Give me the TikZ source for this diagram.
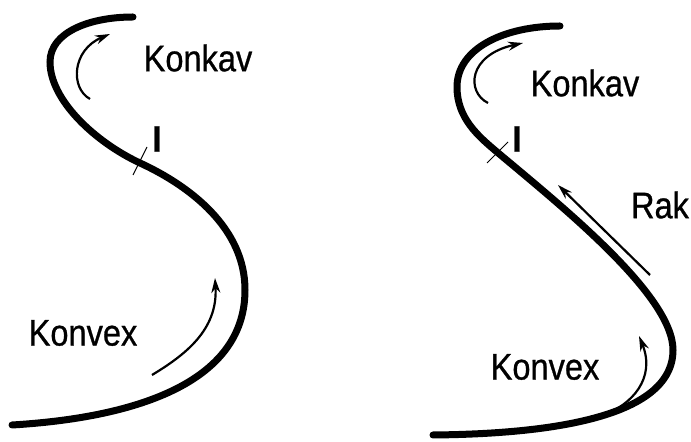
\documentclass[tikz,border=0pt]{standalone}
\usepackage{fontspec}
\setmainfont{Liberation Sans}[FakeBold=0.8]
\usetikzlibrary{arrows.meta}

\tikzset{
  curve/.style = {line width = 3.5pt, line cap = round},
  turn/.style = {line width = 1.1pt, -{Stealth[length = 7.5pt, width = 4.5pt]}},
  tick/.style = {line width = 0.5pt},
  lbl/.style = {font = \fontsize{18.5}{20}\selectfont, xscale = 0.88, inner sep = 0pt}
}

\begin{document}
\begin{tikzpicture}[x = 0.5pt, y = -0.5pt]
\useasboundingbox (0,0) rectangle (691,442);
% left S
\draw[curve] (133,17) .. controls (90,17) and (50,32) .. (50,62)
  .. controls (50,100) and (95,142) .. (140,163)
  .. controls (190,186) and (245,228) .. (245,290)
  .. controls (245,385) and (130,418) .. (12,425);
\draw[tick] (133,175) -- (147,147);
\node[lbl] (iL) at (157,139) {\bfseries I};
\node[lbl] (konkavL) at (198,58) {Konkav};
\node[lbl] (konvexL) at (83,333) {Konvex};
\draw[turn] (90,99) .. controls (70,88) and (72,50) .. (110,34);
\draw[turn] (152,375) .. controls (185,355) and (218,330) .. (215,278);
% right S
\draw[curve] (560,26) .. controls (505,26) and (457,48) .. (457,87)
  .. controls (457,118) and (478,136) .. (497,152)
  .. controls (560,205) and (673,295) .. (673,350)
  .. controls (673,420) and (540,434) .. (433,435);
\draw[tick] (487,163) -- (508,142);
\node[lbl] (iR) at (517,139) {\bfseries I};
\node[lbl] (konkavR) at (585,83) {Konkav};
\node[lbl] (rak) at (660,205) {Rak};
\node[lbl] (konvexR) at (545,367) {Konvex};
\draw[turn] (488,103) .. controls (466,92) and (468,55) .. (523,43);
\draw[turn] (650,275) -- (558,185);
\draw[turn] (603,415) .. controls (632,405) and (656,378) .. (639,336);
\end{tikzpicture}
\end{document}
